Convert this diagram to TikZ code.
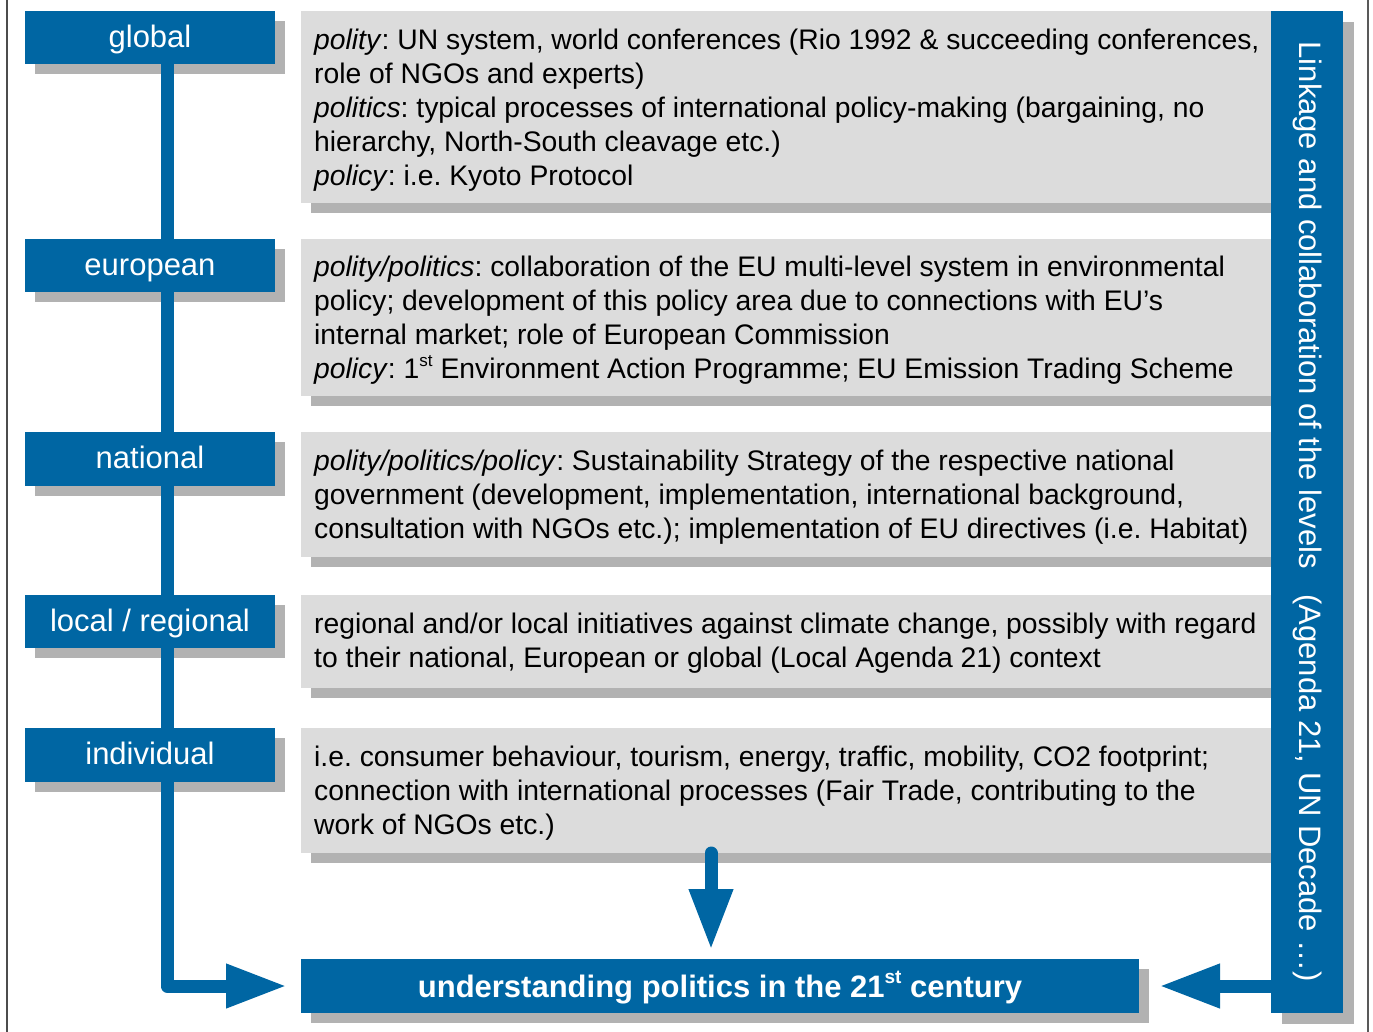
\documentclass[tikz,border=0pt]{standalone}
\usepackage{fontspec}
\setmainfont{Liberation Sans}
\usetikzlibrary{arrows.meta}
\definecolor{uniblue}{RGB}{0,102,163}
\definecolor{boxgray}{RGB}{220,220,220}
\definecolor{shgray}{RGB}{178,178,178}
\pgfdeclarelayer{shad}
\pgfdeclarelayer{bg}
\pgfsetlayers{shad,bg,main}
\newcommand{\supA}[1]{\raisebox{0.45em}{\fontsize{17}{17}\selectfont #1}}
\newcommand{\supB}[1]{\raisebox{0.42em}{\fontsize{19}{19}\selectfont\bfseries #1}}
\newcommand{\shadowof}[2]{\fill[shgray] ([shift={(#2,#2)}]#1.north west) rectangle ([shift={(#2,#2)}]#1.south east);}
\tikzset{
  levelbox/.style={anchor=north west, fill=uniblue, text=white, inner sep=0pt, outer sep=0pt,
    minimum width=250pt, text height=22pt, text depth=2.5pt, font=\fontsize{31}{36}\selectfont},
  infobox/.style={anchor=north west, fill=boxgray, inner sep=0pt, outer sep=0pt, minimum width=970pt},
  infotext/.style={anchor=west, align=left, inner sep=0pt, text=black, font=\frenchspacing\fontsize{28.3}{34}\selectfont},
  conn/.style={draw=uniblue, line width=13pt, line join=round, -{Triangle[length=61pt,width=41pt]}},
}
\begin{document}
\frenchspacing
\begin{tikzpicture}[x=1pt,y=-1pt]
\useasboundingbox (0,0) rectangle (1373,1032);
% frame lines
\draw[gray!60!black, line width=1.5pt] (7,0) -- (7,1032);
\draw[gray!70!black, line width=1.5pt] (1368,0) -- (1368,1032);

% level labels
\node[levelbox, minimum height=53pt] (global) at (25,11) {global};
\node[levelbox, minimum height=53pt] (european) at (25,239) {european};
\node[levelbox, minimum height=54pt] (national) at (25,432) {national};
\node[levelbox, minimum height=53pt] (local) at (25,595) {local / regional};
\node[levelbox, minimum height=54pt] (individual) at (25,728) {individual};

% info boxes
\node[infobox, minimum height=192pt] (t1) at (301,11) {};
\node[infobox, minimum height=157pt] (t2) at (301,239) {};
\node[infobox, minimum height=125pt] (t3) at (301,432) {};
\node[infobox, minimum height=93pt] (t4) at (301,595) {};
\node[infobox, minimum height=125pt] (t5) at (301,728) {};

\node[infotext] (x1) at ([shift={(13pt,-3pt)}]t1.west) {\textit{polity}: UN system, world conferences (Rio 1992 \& succeeding conferences,\\
role of NGOs and experts)\\
\textit{politics}: typical processes of international policy-making (bargaining, no\\
hierarchy, North-South cleavage etc.)\\
\textit{policy}: i.e. Kyoto Protocol};
\node[infotext] (x2) at ([shift={(13pt,-3pt)}]t2.west) {\textit{polity/politics}: collaboration of the EU multi-level system in environmental\\
policy; development of this policy area due to connections with EU’s\\
internal market; role of European Commission\\
\textit{policy}: 1\supA{st} Environment Action Programme; EU Emission Trading Scheme};
\node[infotext] (x3) at ([shift={(13pt,-3pt)}]t3.west) {\textit{polity/politics/policy}: Sustainability Strategy of the respective national\\
government (development, implementation, international background,\\
consultation with NGOs etc.); implementation of EU directives (i.e. Habitat)};
\node[infotext] (x4) at ([shift={(13pt,-2pt)}]t4.west) {regional and/or local initiatives against climate change, possibly with regard\\
to their national, European or global (Local Agenda 21) context};
\node[infotext] (x5) at ([shift={(13pt,-3pt)}]t5.west) {i.e. consumer behaviour, tourism, energy, traffic, mobility, CO2 footprint;\\
connection with international processes (Fair Trade, contributing to the\\
work of NGOs etc.)};

% right vertical box
\node[anchor=north west, fill=uniblue, inner sep=0pt, outer sep=0pt, minimum width=72pt, minimum height=1002pt] (rb) at (1271,11) {};
\node[rotate=-90, text=white, inner sep=0pt, font=\fontsize{31}{36}\selectfont] (rbt) at (rb.center)
  {Linkage and collaboration of the levels\hspace{17pt} (Agenda 21, UN Decade …)};

% bottom box
\node[anchor=north west, fill=uniblue, text=white, inner sep=0pt, outer sep=0pt, minimum width=838pt, minimum height=54pt,
  text height=22pt, text depth=0pt,
  font=\fontsize{31}{36}\selectfont\bfseries] (bottom) at (301,959) {understanding politics in the 21\supB{st} century};

% shadows
\begin{pgfonlayer}{shad}
\shadowof{global}{10}
\shadowof{european}{10}
\shadowof{national}{10}
\shadowof{local}{10}
\shadowof{individual}{10}
\shadowof{t1}{10}
\shadowof{t2}{10}
\shadowof{t3}{10}
\shadowof{t4}{10}
\shadowof{t5}{10}
\shadowof{rb}{11}
\shadowof{bottom}{10}
\end{pgfonlayer}

% connectors
\coordinate (spine) at ([xshift=17pt]global.south);
\coordinate (dtop) at ([xshift=-75pt]t5.south);
\begin{pgfonlayer}{bg}
\draw[conn, shorten >=14pt] (spine) |- (bottom.west);
\draw[conn, shorten >=20pt] (rb.west |- bottom.east) -- (bottom.east);
\end{pgfonlayer}
\draw[conn, line cap=round, shorten >=9pt] (dtop) -- (dtop |- bottom.north);
\end{tikzpicture}
\end{document}
